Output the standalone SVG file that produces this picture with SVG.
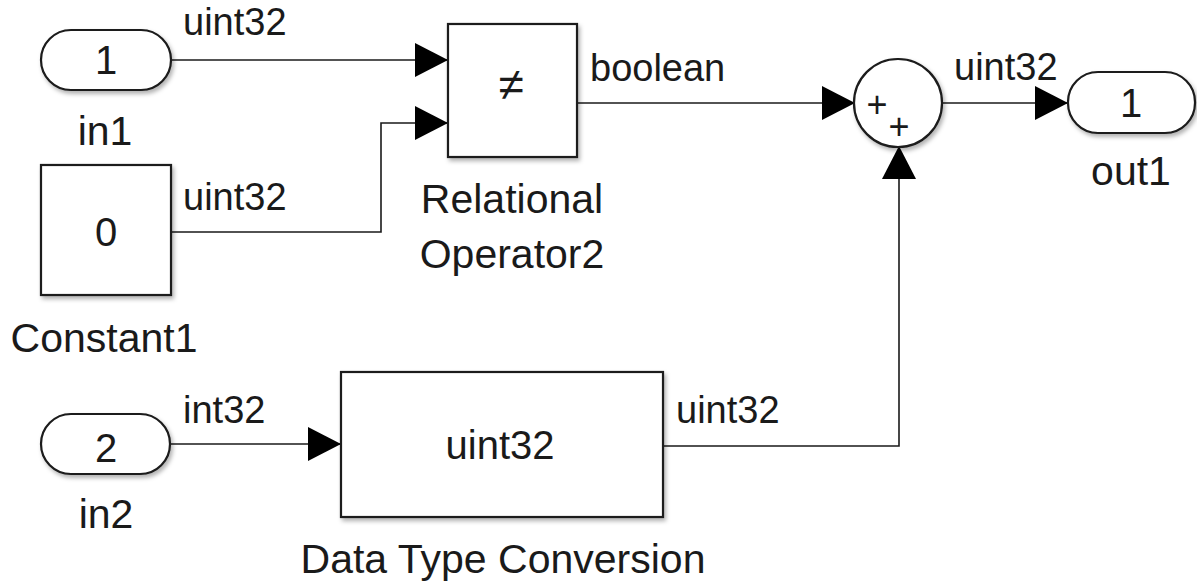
<svg xmlns="http://www.w3.org/2000/svg" width="1197" height="583" viewBox="0 0 1197 583">
  <defs>
    <filter id="sh" x="-10%" y="-10%" width="125%" height="125%">
      <feDropShadow dx="2" dy="3" stdDeviation="2" flood-color="#000" flood-opacity="0.3"/>
    </filter>
    <marker id="arr" markerUnits="userSpaceOnUse" markerWidth="34" markerHeight="36" refX="33" refY="17" orient="auto" viewBox="0 0 34 34">
      <path d="M0,0 L33,17 L0,34 Z" fill="#000"/>
    </marker>
    <style>
      .blk { fill: #fff; stroke: #1a1a1a; stroke-width: 2.2; filter: url(#sh); }
      .wire { fill: none; stroke: #1a1a1a; stroke-width: 1.6; }
      .arrow { marker-end: url(#arr); }
      text { font-family: "Liberation Sans", Arial, Helvetica, sans-serif; fill: #1a1a1a; }
      .sig { font-size: 38px; }
      .name { font-size: 41px; text-anchor: middle; }
      .val { font-size: 40px; text-anchor: middle; }
      .op { font-size: 46px; text-anchor: middle; }
      .pl { font-size: 36px; text-anchor: middle; }
    </style>
  </defs>

  <g id="connectors">
    <path class="wire arrow" d="M171,60 H448"/>
    <path class="wire arrow" d="M171,232 H381 V123 H448"/>
    <path class="wire arrow" d="M577,103 H855"/>
    <path class="wire arrow" d="M942,103 H1068"/>
    <path class="wire arrow" d="M170,444 H341"/>
    <path class="wire arrow" d="M663,446 H899 V146"/>
    <text class="sig" x="183" y="35">uint32</text>
    <text class="sig" x="183" y="210">uint32</text>
    <text class="sig" x="590" y="81">boolean</text>
    <text class="sig" x="954" y="80">uint32</text>
    <text class="sig" x="183" y="423">int32</text>
    <text class="sig" x="676" y="423">uint32</text>
  </g>

  <g id="in1">
    <rect class="blk" x="41" y="30" width="130" height="60" rx="30" ry="30"/>
    <text class="val" x="106" y="74">1</text>
    <text class="name" x="105" y="145">in1</text>
  </g>

  <g id="constant1">
    <rect class="blk" x="41" y="165" width="130" height="130"/>
    <text class="val" x="106" y="246">0</text>
    <text class="name" x="104" y="352">Constant1</text>
  </g>

  <g id="relational-operator2">
    <rect class="blk" x="448" y="24" width="129" height="133"/>
    <text class="op" x="511" y="100">≠</text>
    <text class="name" x="512" y="213">Relational</text>
    <text class="name" x="512" y="268">Operator2</text>
  </g>

  <g id="sum">
    <circle class="blk" cx="898" cy="103" r="44"/>
    <text class="pl" x="877" y="117">+</text>
    <text class="pl" x="899" y="139">+</text>
  </g>

  <g id="out1">
    <rect class="blk" x="1068" y="72" width="127" height="61" rx="30" ry="30"/>
    <text class="val" x="1131" y="117">1</text>
    <text class="name" x="1131" y="185">out1</text>
  </g>

  <g id="in2">
    <rect class="blk" x="41" y="414" width="129" height="60" rx="30" ry="30"/>
    <text class="val" x="106" y="462">2</text>
    <text class="name" x="106" y="528">in2</text>
  </g>

  <g id="data-type-conversion">
    <rect class="blk" x="341" y="372" width="322" height="145"/>
    <text class="val" x="500" y="459">uint32</text>
    <text class="name" x="503" y="573">Data Type Conversion</text>
  </g>
</svg>
